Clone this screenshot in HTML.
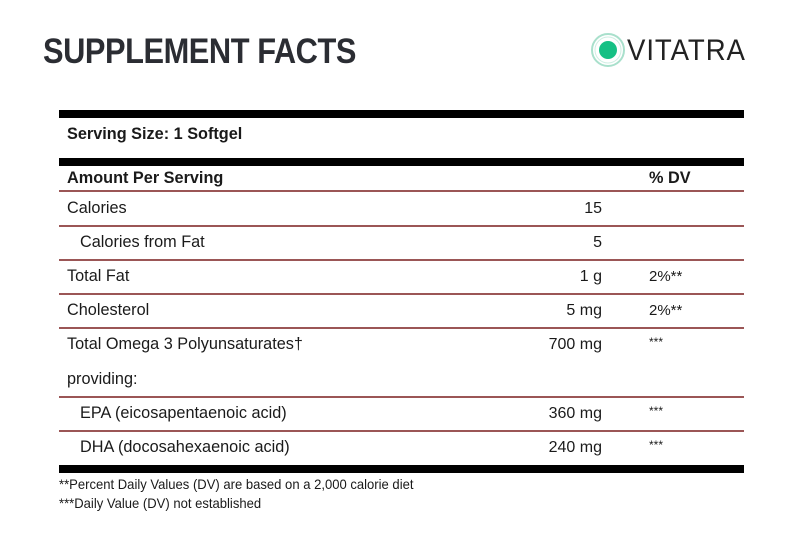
<!DOCTYPE html>
<html><head><style>
body{margin:0;width:800px;height:544px;background:#fff;position:relative;overflow:hidden;font-family:"Liberation Sans",Arial,sans-serif;color:#1a1a1a}
.a{position:absolute;white-space:nowrap}
.bar{position:absolute;left:59px;width:685px;background:#000}
.rl{position:absolute;left:59px;width:685px;height:2px;background:#9b5656}
.t{font-size:16.6px;transform:scaleX(0.98);transform-origin:left top;margin-top:-2px}
.v{position:absolute;right:198px;font-size:16px}
.d{position:absolute;left:649px;font-size:15px}
.f{font-size:13.6px;transform:scaleX(0.96);transform-origin:left top}
</style></head><body>
<div class="a" style="left:43px;top:32px;font-size:35px;font-weight:bold;color:#2b2d33;transform:scaleX(0.88);transform-origin:left top;letter-spacing:-0.5px">SUPPLEMENT FACTS</div>
<svg class="a" style="left:590px;top:31px" width="36" height="38"><circle cx="18" cy="19" r="16" fill="none" stroke="#a9e0cc" stroke-width="2"/><circle cx="18" cy="19" r="13" fill="none" stroke="#cdeee2" stroke-width="1"/><circle cx="18" cy="19" r="9" fill="#16c084"/></svg>
<div class="a" style="left:627px;top:34px;font-size:30px;color:#222;letter-spacing:1px;transform:scaleX(0.92);transform-origin:left top">VITATRA</div>

<div class="bar" style="top:110px;height:8px"></div>
<div class="a t" style="left:67px;top:126px;font-weight:bold">Serving Size: 1 Softgel</div>
<div class="bar" style="top:158px;height:8px"></div>
<div class="a t" style="left:67px;top:170px;font-weight:bold">Amount Per Serving</div>
<div class="a t" style="left:649px;top:170px;font-weight:bold">% DV</div>
<div class="rl" style="top:190px"></div>

<div class="a t" style="left:67px;top:200px">Calories</div><div class="v" style="top:200px">15</div>
<div class="rl" style="top:225px"></div>
<div class="a t" style="left:80px;top:234px">Calories from Fat</div><div class="v" style="top:234px">5</div>
<div class="rl" style="top:259px"></div>
<div class="a t" style="left:67px;top:268px">Total Fat</div><div class="v" style="top:268px">1 g</div><div class="d" style="top:268px">2%**</div>
<div class="rl" style="top:293px"></div>
<div class="a t" style="left:67px;top:302px">Cholesterol</div><div class="v" style="top:302px">5 mg</div><div class="d" style="top:302px">2%**</div>
<div class="rl" style="top:327px"></div>
<div class="a t" style="left:67px;top:336px">Total Omega 3 Polyunsaturates†</div><div class="v" style="top:336px">700 mg</div><div class="d" style="top:335px;font-size:12px">***</div>
<div class="a t" style="left:67px;top:371px">providing:</div>
<div class="rl" style="top:396px"></div>
<div class="a t" style="left:80px;top:405px">EPA (eicosapentaenoic acid)</div><div class="v" style="top:405px">360 mg</div><div class="d" style="top:404px;font-size:12px">***</div>
<div class="rl" style="top:430px"></div>
<div class="a t" style="left:80px;top:439px">DHA (docosahexaenoic acid)</div><div class="v" style="top:439px">240 mg</div><div class="d" style="top:438px;font-size:12px">***</div>
<div class="bar" style="top:465px;height:8px"></div>
<div class="a f" style="left:59px;top:477px">**Percent Daily Values (DV) are based on a 2,000 calorie diet</div>
<div class="a f" style="left:59px;top:496px">***Daily Value (DV) not established</div>
</body></html>
